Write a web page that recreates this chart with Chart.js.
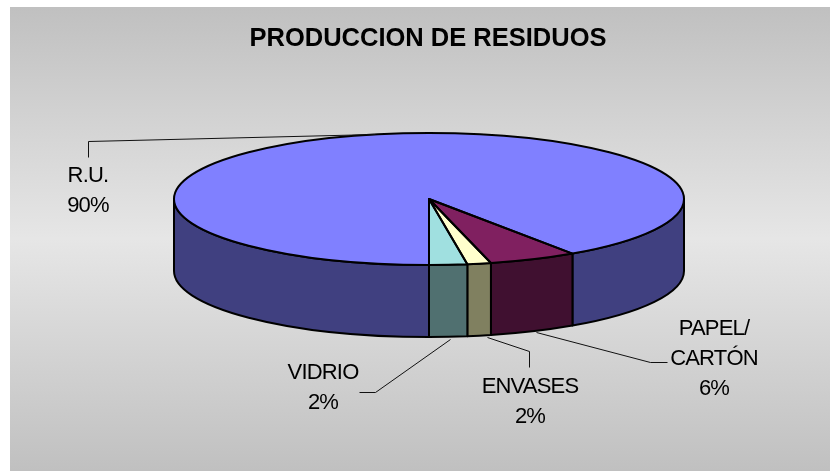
<!DOCTYPE html>
<html><head><meta charset="utf-8">
<style>html,body{margin:0;padding:0;background:#fff}canvas{display:block}#w{position:relative;width:830px;height:471px}</style>
<script src="https://cdn.jsdelivr.net/npm/chart.js@4"></script></head>
<body><div id="w"><canvas id="c" width="830" height="471"></canvas></div>
<script>
const chartTitle = 'PRODUCCION DE RESIDUOS';
const categories = ['R.U.', 'PAPEL/\nCARTÓN', 'ENVASES', 'VIDRIO'];
const values = [90.4, 5.6, 1.5, 2.4];
const topColors = ['#8080FF', '#802060', '#FFFFCC', '#A0E0E0'];
const sideColors = ['#404080', '#401030', '#808060', '#507070'];

const box = {x: 10, y: 7, w: 820, h: 464};
const pie = {cx: 429, cy: 199, rx: 255, ry: 66, depth: 72};
const titlePos = {x: 428, y: 39};
const labelPos = [{x: 88, y: 176}, {x: 714, y: 329}, {x: 530, y: 387}, {x: 323, y: 373}];
const leaders = [
  [[88, 157], [88, 141], [375, 134]],
  [[536, 332], [650, 362], [667, 362]],
  [[487, 337], [529, 351], [529, 367]],
  [[450, 339], [375, 392], [359, 392]]
];
const total = values.reduce((a, b) => a + b, 0);

const bgPlugin = {
  id: 'bg',
  beforeDraw(chart) {
    const c = chart.ctx;
    const g = c.createLinearGradient(0, box.y, 0, box.y + box.h);
    g.addColorStop(0, '#C0C0C0'); g.addColorStop(0.5, '#E6E6E6'); g.addColorStop(1, '#C0C0C0');
    c.fillStyle = g;
    c.fillRect(box.x, box.y, box.w, box.h);
  }
};

const pie3d = {
  id: 'pie3d',
  beforeDatasetsDraw(chart) {
    const c = chart.ctx, arcs = chart.getDatasetMeta(0).data;
    const norm = a => { a %= 2 * Math.PI; return a < 0 ? a + 2 * Math.PI : a; };
    arcs.forEach((arc, i) => {
      let s = norm(arc.startAngle), e = s + (arc.endAngle - arc.startAngle);
      const parts = [[s, e], [s - 2 * Math.PI, e - 2 * Math.PI]];
      parts.forEach(([a0, b0]) => {
        const a = Math.max(a0, 0), b = Math.min(b0, Math.PI);
        if (b <= a) return;
        c.beginPath();
        c.ellipse(pie.cx, pie.cy, pie.rx, pie.ry, 0, a, b);
        c.ellipse(pie.cx, pie.cy + pie.depth, pie.rx, pie.ry, 0, b, a, true);
        c.closePath();
        c.fillStyle = sideColors[i];
        c.fill();
        c.lineWidth = 2; c.strokeStyle = '#000'; c.lineJoin = 'round';
        c.stroke();
      });
    });
    const r = arcs[0].outerRadius;
    c.save();
    c.translate(pie.cx, pie.cy);
    c.scale(pie.rx / r, pie.ry / r);
    c.translate(-arcs[0].x, -arcs[0].y);
  },
  afterDatasetsDraw(chart) {
    const c = chart.ctx, arcs = chart.getDatasetMeta(0).data;
    c.restore();
    arcs.forEach(arc => {
      c.beginPath();
      c.moveTo(pie.cx, pie.cy);
      c.ellipse(pie.cx, pie.cy, pie.rx, pie.ry, 0, arc.startAngle, arc.endAngle);
      c.closePath();
      c.lineWidth = 2; c.strokeStyle = '#000'; c.lineJoin = 'round';
      c.stroke();
    });
    c.lineWidth = 1; c.strokeStyle = '#111';
    leaders.forEach(l => {
      c.beginPath();
      l.forEach(([x, y], k) => k ? c.lineTo(x + .5, y + .5) : c.moveTo(x + .5, y + .5));
      c.stroke();
    });
    c.fillStyle = '#000';
    c.textAlign = 'center'; c.textBaseline = 'middle';
    c.font = 'bold 25.5px "Liberation Sans", Arial, sans-serif';
    c.fillText(chartTitle, titlePos.x, titlePos.y);
    c.font = '22px "Liberation Sans", Arial, sans-serif';
    if ('letterSpacing' in c) c.letterSpacing = '-0.8px';
    categories.forEach((cat, i) => {
      const lines = cat.split('\n').concat(Math.round(values[i] / total * 100) + '%');
      lines.forEach((t, k) => c.fillText(t, labelPos[i].x, labelPos[i].y + k * 30));
    });
    if ('letterSpacing' in c) c.letterSpacing = '0px';
  }
};

new Chart(document.getElementById('c'), {
  type: 'pie',
  data: {labels: categories, datasets: [{data: values, backgroundColor: topColors, borderWidth: 0}]},
  options: {
    responsive: false, animation: false, rotation: 180,
    layout: {padding: 0},
    plugins: {legend: {display: false}, tooltip: {enabled: false}, title: {display: false}}
  },
  plugins: [bgPlugin, pie3d]
});
</script></body></html>
